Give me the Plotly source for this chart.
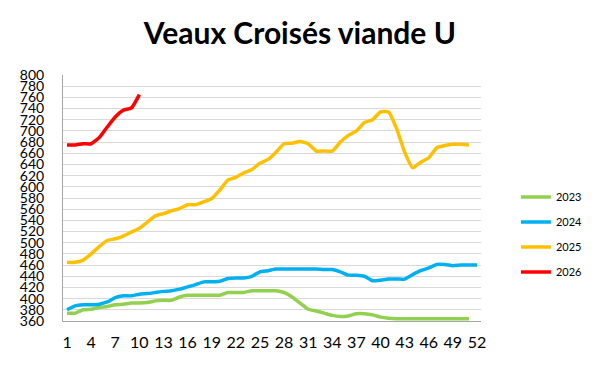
import plotly.graph_objects as go

weeks = list(range(1, 53))

y2023 = [374, 374, 380, 381, 384, 386, 389, 390, 392, 392, 393, 396, 397, 397, 403, 406, 406,
         406, 406, 406, 411, 411, 411, 414, 414, 414, 414, 411, 403, 392, 381, 378, 374, 370,
         368, 369, 373, 373, 371, 367, 365, 364, 364, 364, 364, 364, 364, 364, 364, 364, 364]
y2024 = [380, 387, 389, 389, 390, 394, 402, 405, 405, 408, 409, 411, 413, 414, 417, 421, 425,
         430, 430, 431, 436, 437, 437, 440, 448, 450, 453, 453, 453, 453, 453, 453, 452, 452,
         448, 442, 442, 440, 432, 433, 435, 435, 435, 443, 450, 455, 461, 461, 459, 460, 460, 460]
y2025 = [465, 465, 469, 480, 493, 504, 507, 512, 519, 526, 537, 548, 552, 557, 561, 568, 568,
         573, 579, 594, 612, 617, 625, 631, 642, 649, 662, 677, 678, 681, 677, 664, 664, 664,
         680, 692, 700, 715, 720, 734, 734, 704, 662, 634, 644, 652, 670, 674, 676, 676, 675]
y2026 = [675, 675, 677, 677, 688, 707, 725, 737, 741, 765]

series = [
    ("2023", y2023, "#92D050"),
    ("2024", y2024, "#00B0F0"),
    ("2025", y2025, "#FFC000"),
    ("2026", y2026, "#FF0000"),
]

x_ticks = list(range(1, 53, 3))
y_ticks = list(range(360, 801, 20))

fig = go.Figure()
for name, vals, col in series:
    fig.add_trace(go.Scatter(
        x=weeks[:len(vals)], y=vals, mode="lines", name=name,
        legendgroup=name,
        line=dict(color=col, width=3.5, shape="spline", smoothing=0.5),
    ))

fig.update_layout(
    width=592, height=361,
    margin=dict(l=48, r=113, t=67, b=48),
    paper_bgcolor="white", plot_bgcolor="white",
    title=dict(text="<b>Veaux Croisés viande U</b>", x=0.493, xanchor="center",
               y=0.928, yanchor="middle", yref="container",
               font=dict(family="Lato", size=30, color="black")),
    showlegend=True,
    legend=dict(x=1.0835, y=0.352, xanchor="left", yanchor="middle",
                font=dict(family="Lato", size=11, color="black"),
                tracegroupgap=6, bgcolor="rgba(0,0,0,0)"),
    xaxis=dict(range=[0.5, 52.5], tickvals=x_ticks, showgrid=False,
               showline=True, linecolor="#a6a6a6", linewidth=1,
               ticks="", ticklabelstandoff=7,
               tickfont=dict(family="Lato", size=16, color="black"),
               zeroline=False),
    yaxis=dict(range=[360, 800], tickvals=y_ticks, showgrid=True,
               gridcolor="#d9d9d9", gridwidth=1,
               showline=True, linecolor="#a6a6a6", linewidth=1,
               ticks="", ticklabelstandoff=15,
               tickfont=dict(family="Lato", size=14, color="black"),
               zeroline=False),
)

fig.write_html("out.html")
